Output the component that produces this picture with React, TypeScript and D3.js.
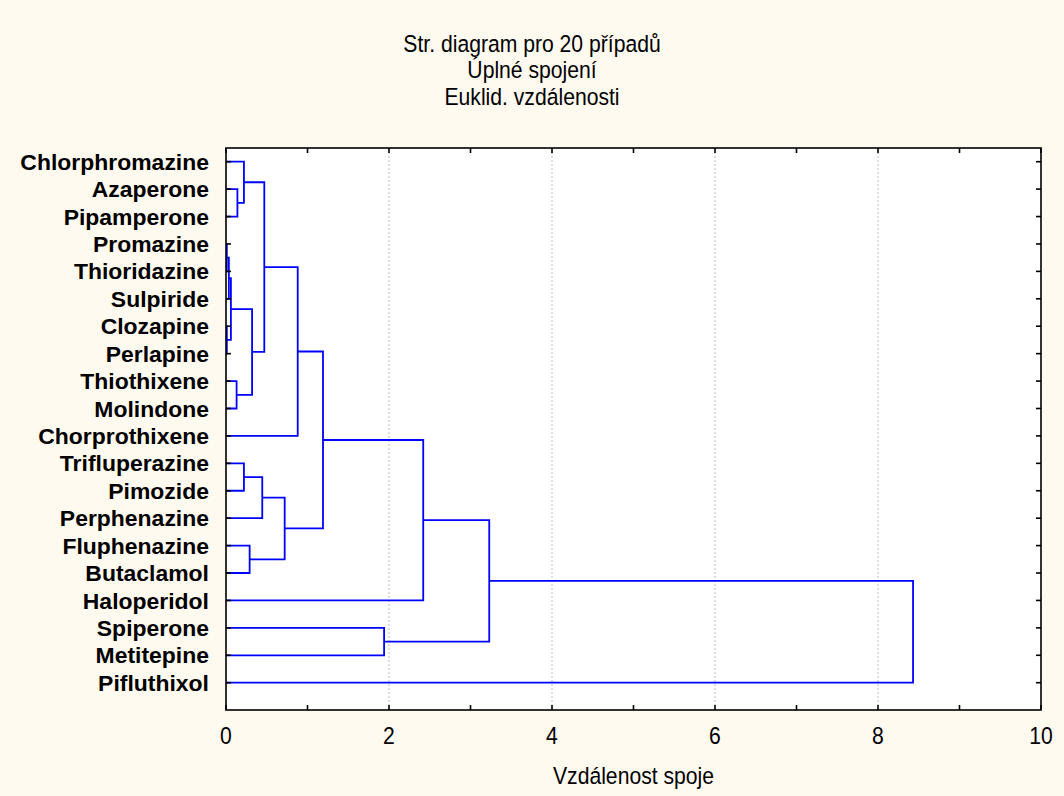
import React from "react";
import * as d3 from "d3";

// ---- data ----
const leafNames: string[] = [
  "Chlorphromazine", "Azaperone", "Pipamperone", "Promazine", "Thioridazine",
  "Sulpiride", "Clozapine", "Perlapine", "Thiothixene", "Molindone",
  "Chorprothixene", "Trifluperazine", "Pimozide", "Perphenazine", "Fluphenazine",
  "Butaclamol", "Haloperidol", "Spiperone", "Metitepine", "Pifluthixol",
];
// merges: new cluster id = 20 + index
const mergeLeft: number[] = [3, 6, 20, 22, 8, 1, 0, 11, 14, 23, 27, 26, 30, 31, 33, 17, 34, 36, 37];
const mergeRight: number[] = [4, 7, 5, 21, 9, 2, 25, 12, 15, 24, 13, 29, 28, 10, 32, 18, 16, 35, 19];
const mergeHeight: number[] = [0.01, 0.01, 0.035, 0.06, 0.13, 0.14, 0.22, 0.22, 0.29, 0.32, 0.445, 0.47, 0.72, 0.88, 1.19, 1.94, 2.42, 3.23, 8.43];
const xTicks: number[] = [0, 2, 4, 6, 8, 10];
const xMinorTicks: number[] = [0, 1, 2, 3, 4, 5, 6, 7, 8, 9, 10];
const titleLines: string[] = ["Str. diagram pro 20 případů", "Úplné spojení", "Euklid. vzdálenosti"];
const xAxisTitle = "Vzdálenost spoje";

const W = 1064, H = 796;
const plotLeft = 226, plotRight = 1041, plotTop = 148, plotBottom = 710;
const FONT = "'Liberation Sans', Arial, sans-serif";
const REG_SIZE = 23.5, REG_SX = 0.9;
const BOLD_SIZE = 22.5, BOLD_SX = 1.02;

export default function App() {
  const x = d3.scaleLinear().domain([0, 10]).range([plotLeft, plotRight]);
  const y = d3.scaleLinear().domain([0, leafNames.length - 1]).range([161.7, 682.7]);

  const nodeY: number[] = leafNames.map((_, i) => y(i));
  const nodeH: number[] = leafNames.map(() => 0);
  const paths: string[] = [];
  mergeHeight.forEach((h, i) => {
    const a = mergeLeft[i], b = mergeRight[i];
    const ya = nodeY[a], yb = nodeY[b];
    const p = d3.path();
    p.moveTo(x(nodeH[a]), ya);
    p.lineTo(x(h), ya);
    p.lineTo(x(h), yb);
    p.lineTo(x(nodeH[b]), yb);
    paths.push(p.toString());
    nodeY.push((ya + yb) / 2);
    nodeH.push(h);
  });

  const regText = (key: string, tx: number, ty: number, s: string) => (
    <text key={key} transform={`translate(${tx},${ty}) scale(${REG_SX},1)`} textAnchor="middle" fontFamily={FONT} fontSize={REG_SIZE} fill="#000">{s}</text>
  );

  return (
    <div style={{ position: "fixed", left: 0, top: 0 }}>
      <svg width={W} height={H} style={{ display: "block" }}>
        <rect x={0} y={0} width={W} height={H} fill="#FFFAF0" />
        {titleLines.map((t, i) => regText("t" + i, W / 2, 51.5 + i * 26.5, t))}
        <rect x={plotLeft} y={plotTop} width={plotRight - plotLeft} height={plotBottom - plotTop} fill="#fff" />
        {xTicks.filter(v => v > 0 && v < 10).map(v => (
          <line key={"g" + v} x1={x(v)} x2={x(v)} y1={plotTop} y2={plotBottom} stroke="#bdbdbd" strokeWidth={1} strokeDasharray="2,2" />
        ))}
        {paths.map((d, i) => (
          <path key={i} d={d} fill="none" stroke="#0000FF" strokeWidth={1.8} />
        ))}
        <rect x={plotLeft} y={plotTop} width={plotRight - plotLeft} height={plotBottom - plotTop} fill="none" stroke="#000" strokeWidth={1.6} />
        {xMinorTicks.map(v => (
          <g key={"t" + v}>
            <line x1={x(v)} x2={x(v)} y1={plotTop} y2={plotTop + 5} stroke="#000" strokeWidth={1.6} />
            <line x1={x(v)} x2={x(v)} y1={plotBottom} y2={plotBottom - 5} stroke="#000" strokeWidth={1.6} />
          </g>
        ))}
        {leafNames.map((n, i) => (
          <g key={"l" + n}>
            <line x1={plotLeft} x2={plotLeft + 5} y1={y(i)} y2={y(i)} stroke="#000" strokeWidth={1.6} />
            <line x1={plotRight} x2={plotRight - 5} y1={y(i)} y2={y(i)} stroke="#000" strokeWidth={1.6} />
            <text transform={`translate(209,${y(i)}) scale(${BOLD_SX},1)`} dy="0.36em" textAnchor="end" fontFamily={FONT} fontWeight="bold" fontSize={BOLD_SIZE} fill="#000">{n}</text>
          </g>
        ))}
        {xTicks.map(v => regText("x" + v, x(v), 744, String(v)))}
        {regText("xt", (plotLeft + plotRight) / 2, 784, xAxisTitle)}
      </svg>
    </div>
  );
}
